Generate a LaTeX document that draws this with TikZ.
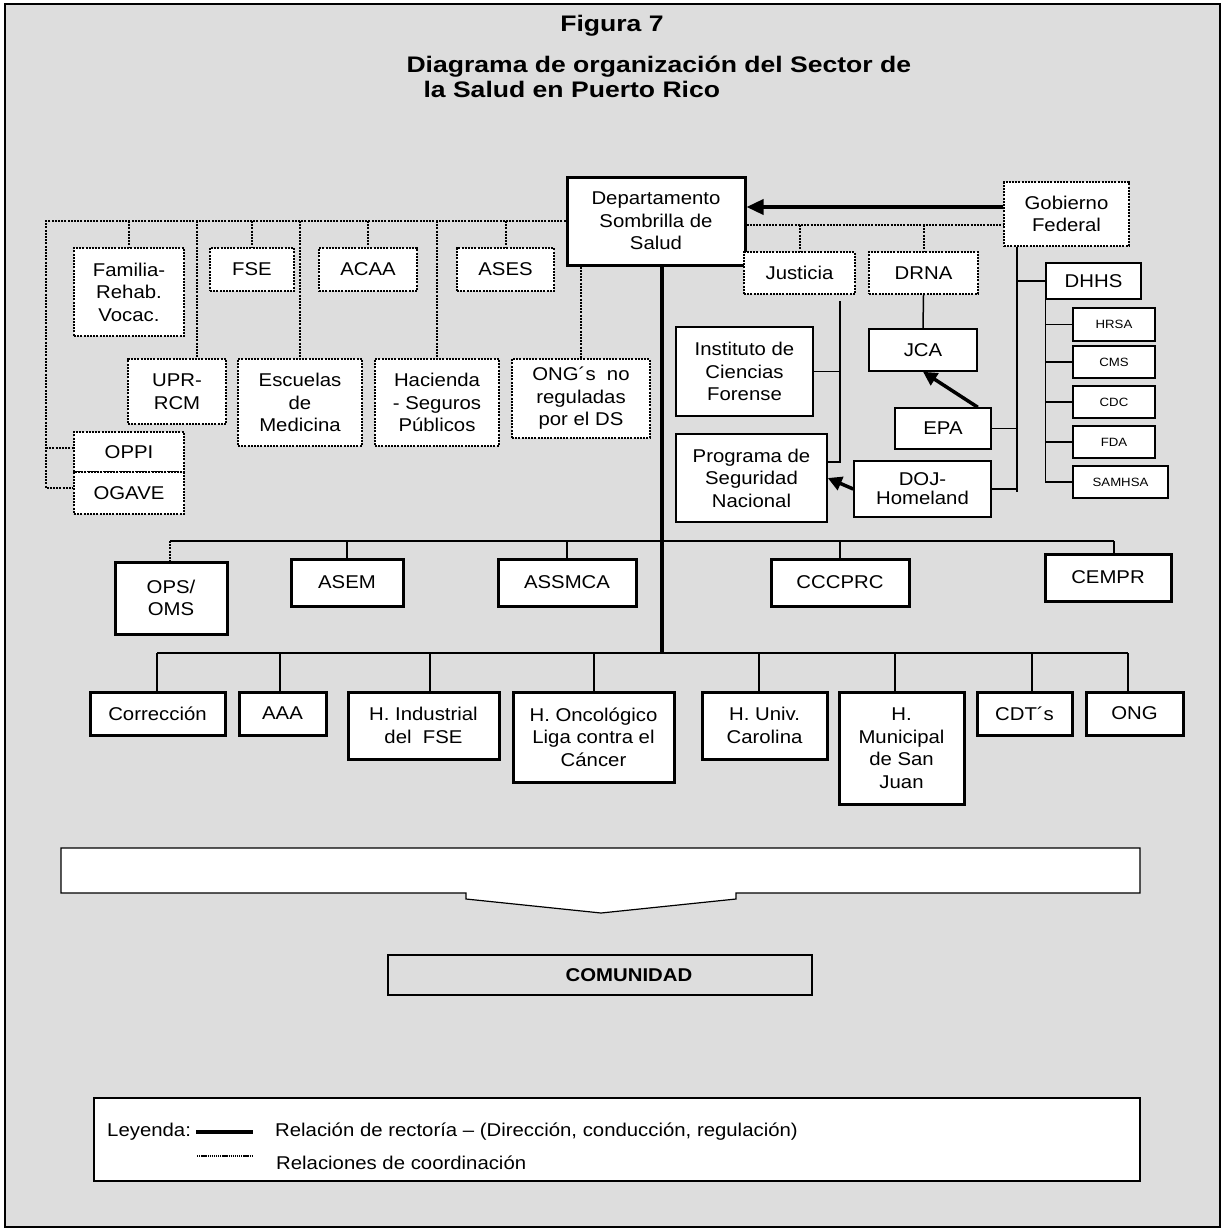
\documentclass[tikz,border=0pt]{standalone}
\usepackage{fontspec}
\setmainfont{Liberation Sans}[FakeStretch=1.1]
\newfontfamily\titlefam{Liberation Sans}[FakeStretch=1.18]
\usetikzlibrary{arrows.meta,calc}
\definecolor{bg}{HTML}{DDDDDD}
\newcommand\fsmain{\fontsize{18.5}{22.5}\selectfont}
\newcommand\fssmall{\fontsize{12}{14}\selectfont}
\newcommand\fstitle{\titlefam\bfseries\fontsize{22.5}{26}\selectfont}
\tikzset{
  base/.style={draw, fill=white, align=center, inner sep=0pt, font=\fsmain},
  sbox/.style={base, line width=1.5pt},
  tbox/.style={base, line width=3pt},
  dbox/.style={base, line width=2pt, dash pattern=on 2pt off 1.2pt},
  dotl/.style={line width=2pt, dash pattern=on 2pt off 1.2pt},
  thinl/.style={line width=1.5pt},
  thickl/.style={line width=3.5pt},
}
\begin{document}
\begin{tikzpicture}[x=1pt,y=-1pt]
\useasboundingbox (0,0) rectangle (1225,1231);
\fill[white] (0,0) rectangle (1225,1231);
\draw[line width=1.5pt, fill=bg] (5,4) rectangle (1220,1227);

% title
\node[font=\fstitle, anchor=base] (t1) at (612,32) {Figura 7};
\node[font=\fstitle, anchor=base west] (t2) at (403,72) {Diagrama de organización del Sector de};
\node[font=\fstitle, anchor=base west] (t3) at (420,97) {la Salud en Puerto Rico};

% top nodes
\node[tbox, minimum width=178pt, minimum height=88pt] (dept) at (656,221) {Departamento\\Sombrilla de\\Salud};
\node[dbox, minimum width=125pt, minimum height=64pt] (gob) at (1066.5,214) {Gobierno\\Federal};
\node[dbox, minimum width=111pt, minimum height=42pt] (just) at (799.5,273) {Justicia};
\node[dbox, minimum width=109pt, minimum height=42pt] (drna) at (923.5,273) {DRNA};
\node[sbox, minimum width=108pt, minimum height=42pt] (jca) at (923,350) {JCA};
\node[sbox, minimum width=137pt, minimum height=89pt] (icf) at (744.5,371.5) {Instituto de\\Ciencias\\Forense};
\node[sbox, minimum width=151pt, minimum height=88pt] (psn) at (751.5,478) {Programa de\\Seguridad\\Nacional};
\node[sbox, minimum width=137pt, minimum height=56pt, font=\fontsize{18.5}{19}\selectfont] (doj) at (922.5,489) {DOJ-\\Homeland};
\node[sbox, minimum width=96pt, minimum height=41pt] (epa) at (943,428.5) {EPA};
\node[sbox, minimum width=95pt, minimum height=36pt] (dhhs) at (1093.5,281) {DHHS};
\node[sbox, font=\fssmall, minimum width=82pt, minimum height=33pt] (hrsa) at (1114,324.5) {HRSA};
\node[sbox, font=\fssmall, minimum width=82pt, minimum height=32pt] (cms) at (1114,362) {CMS};
\node[sbox, font=\fssmall, minimum width=82pt, minimum height=32pt] (cdc) at (1114,402) {CDC};
\node[sbox, font=\fssmall, minimum width=82pt, minimum height=32pt] (fda) at (1114,442) {FDA};
\node[sbox, font=\fssmall, minimum width=95pt, minimum height=32pt] (samhsa) at (1120.5,482) {SAMHSA};

% left coordination nodes
\node[dbox, minimum width=110pt, minimum height=88pt] (fam) at (129,292) {Familia-\\Rehab.\\Vocac.};
\node[dbox, minimum width=84pt, minimum height=43pt] (fse) at (252,269.5) {FSE};
\node[dbox, minimum width=98pt, minimum height=43pt] (acaa) at (368,269.5) {ACAA};
\node[dbox, minimum width=97pt, minimum height=43pt] (ases) at (505.5,269.5) {ASES};
\node[dbox, minimum width=98pt, minimum height=65pt] (upr) at (177,391.5) {UPR-\\RCM};
\node[dbox, minimum width=124pt, minimum height=87pt] (esc) at (300,402.5) {Escuelas\\de\\Medicina};
\node[dbox, minimum width=124pt, minimum height=87pt] (hac) at (437,402.5) {Hacienda\\- Seguros\\Públicos};
\node[dbox, minimum width=138pt, minimum height=79pt] (ongs) at (581,398.5) {ONG´s\ \ no\\reguladas\\por el DS};
\node[dbox, minimum width=110pt, minimum height=40pt] (oppi) at (129,452) {OPPI};
\node[dbox, minimum width=110pt, minimum height=42pt] (ogave) at (129,493) {OGAVE};

% middle row
\node[tbox, minimum width=112pt, minimum height=72pt] (ops) at (171,598) {OPS/\\OMS};
\node[tbox, minimum width=112pt, minimum height=47pt] (asem) at (347,582.5) {ASEM};
\node[tbox, minimum width=138pt, minimum height=47pt] (assmca) at (567,582.5) {ASSMCA};
\node[tbox, minimum width=138pt, minimum height=47pt] (cccprc) at (840,582.5) {CCCPRC};
\node[tbox, minimum width=126pt, minimum height=47pt] (cempr) at (1108,577.5) {CEMPR};

% bottom row
\node[tbox, minimum width=135pt, minimum height=43pt] (corr) at (157.5,713.5) {Corrección};
\node[tbox, minimum width=87pt, minimum height=43pt] (aaa) at (282.5,713.5) {AAA};
\node[tbox, minimum width=151pt, minimum height=67pt] (hind) at (423.5,725.5) {H. Industrial\\del\ \ FSE};
\node[tbox, minimum width=161pt, minimum height=90pt] (honc) at (593.5,737) {H. Oncológico\\Liga\ contra\ el\\Cáncer};
\node[tbox, minimum width=125pt, minimum height=67pt] (huniv) at (764.5,725.5) {H. Univ.\\Carolina};
\node[tbox, minimum width=125pt, minimum height=112pt] (hmun) at (901.5,748) {H.\\Municipal\\de San\\Juan};
\node[tbox, minimum width=95pt, minimum height=43pt] (cdt) at (1024.5,713.5) {CDT´s};
\node[tbox, minimum width=97pt, minimum height=43pt] (ong) at (1134.5,713.5) {ONG};

% ---- connectors: coordination (dotted)
\coordinate (tl) at (46,221);
\coordinate (bl) at (46,488);
\coordinate (ml) at (46,448);
\draw[dotl] (dept.west |- tl) -- (tl) -- (bl) -- (bl -| ogave.west);
\draw[dotl] (ml) -- (ml -| oppi.west);
\draw[dotl] (fam.north |- tl) -- (fam.north);
\draw[dotl] (fse.north |- tl) -- (fse.north);
\draw[dotl] (acaa.north |- tl) -- (acaa.north);
\draw[dotl] (ases.north |- tl) -- (ases.north);
\coordinate (xu) at (197,0);
\draw[dotl] (xu |- tl) -- (xu |- upr.north);
\draw[dotl] (esc.north |- tl) -- (esc.north);
\draw[dotl] (hac.north |- tl) -- (hac.north);
\draw[dotl] (ongs.north |- dept.south) -- (ongs.north);
\coordinate (tr) at (0,225);
\draw[dotl] (dept.east |- tr) -- (gob.west |- tr);
\draw[dotl] (just.north |- tr) -- (just.north);
\draw[dotl] (drna.north |- tr) -- (drna.north);

% ---- rectoria
\coordinate (ya) at (0,207);
\draw[thickl, -{Triangle[length=17pt,width=15pt]}] (gob.west |- ya) -- (dept.east |- ya);
\coordinate (sp) at (662,653);
\draw[thickl] (sp |- dept.south) -- (sp);

% middle bus
\coordinate (mb1) at (170,541);
\coordinate (mb2) at (1114,541);
\draw[thinl] (mb1) -- (mb2);
\draw[dotl] (mb1) -- (mb1 |- ops.north);
\draw[thinl] (asem.north |- mb1) -- (asem.north);
\draw[thinl] (assmca.north |- mb1) -- (assmca.north);
\draw[thinl] (cccprc.north |- mb1) -- (cccprc.north);
\draw[thinl] (mb2) -- (mb2 |- cempr.north);

% lower bus
\coordinate (lb1) at (157,653);
\coordinate (lb2) at (1128,653);
\draw[thinl] (lb1) -- (lb2);
\draw[thinl] (lb1) -- (lb1 |- corr.north);
\draw[thinl] (280,653) coordinate (d2) -- (d2 |- aaa.north);
\draw[thinl] (430,653) coordinate (d3) -- (d3 |- hind.north);
\draw[thinl] (594,653) coordinate (d4) -- (d4 |- honc.north);
\draw[thinl] (759,653) coordinate (d5) -- (d5 |- huniv.north);
\draw[thinl] (895,653) coordinate (d6) -- (d6 |- hmun.north);
\draw[thinl] (1032,653) coordinate (d7) -- (d7 |- cdt.north);
\draw[thinl] (lb2) -- (lb2 |- ong.north);

% right side thin
\draw[thinl] (drna.south) -- (jca.north);
\coordinate (jv1) at (840,301);
\coordinate (jv2) at (840,462);
\draw[thinl] (jv1) -- (jv2) -- (jv2 -| psn.east);
\draw[thinl] (icf.east) -- (icf.east -| jv1);
\coordinate (gv) at (1017,492);
\draw[thinl] (gv |- gob.south) -- (gv);
\draw[thinl] (dhhs.west) -- (dhhs.west -| gv);
\draw[thinl] (epa.east) -- (epa.east -| gv);
\draw[thinl] (doj.east) -- (doj.east -| gv);
\draw[thinl] (dhhs.south west) -- (samhsa.west -| dhhs.south west);
\foreach \n in {hrsa,cms,cdc,fda,samhsa}{\draw[thinl] (\n.west) -- (\n.west -| dhhs.west);}
\draw[thickl, -{Triangle[length=14pt,width=14pt]}] ($(epa.north east)+(-14,0)$) -- (jca.south);
\draw[thickl, -{Triangle[length=14pt,width=14pt]}] (doj.west) -- (psn.east);

% big arrow box
\draw[line width=1.2pt, fill=white] (61,848) -- (1140,848) -- (1140,893) -- (736,893) -- (736,899) -- (601,913) -- (466,899) -- (466,893) -- (61,893) -- cycle;

% comunidad
\node[draw, line width=1.2pt, fill=bg, minimum width=424pt, minimum height=40pt] (com) at (600,975) {};
\node[font=\bfseries\fsmain] (comt) at (629,975) {COMUNIDAD};

% legend
\node[draw, line width=1.2pt, fill=white, minimum width=1046pt, minimum height=83pt] (leg) at (617,1139.5) {};
\node[font=\fsmain, anchor=west, inner sep=0pt] (ley) at (107,1132) {Leyenda:};
\coordinate (la1) at (196,1132);
\coordinate (la2) at (253,1132);
\draw[thickl] (la1) -- (la2);
\node[font=\fsmain, anchor=west, inner sep=0pt] (lt1) at (275,1132) {Relación de rectoría – (Dirección, conducción, regulación)};
\coordinate (lb1x) at (197,1156);
\coordinate (lb2x) at (253,1156);
\draw[line width=1.3pt, dash pattern=on 1.3pt off 0.8pt] (lb1x) -- (lb2x);
\node[font=\fsmain, anchor=west, inner sep=0pt] (lt2) at (276,1163) {Relaciones de coordinación};
\end{tikzpicture}
\end{document}
